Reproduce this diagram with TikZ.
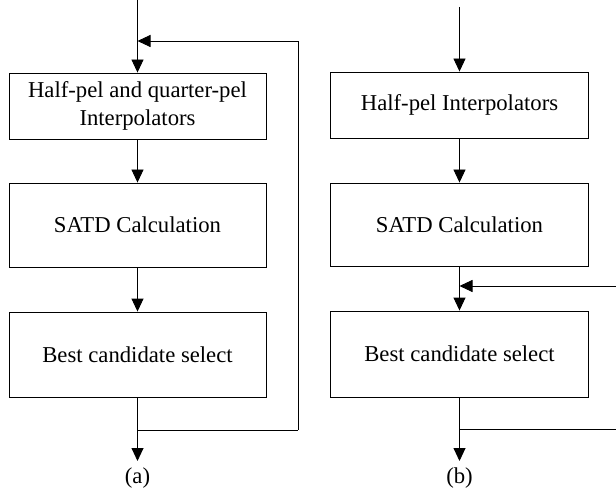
\documentclass[tikz,border=0pt]{standalone}
\usepackage{fontspec}
\setmainfont{Liberation Serif}
\usetikzlibrary{arrows.meta}
\begin{document}
\begin{tikzpicture}[x=1pt,y=-1pt,
  line width=0.9pt,
  blockbox/.style={draw, line width=0.9pt, inner sep=0pt, align=center,
    font=\fontsize{22.7}{28}\selectfont},
  flow/.style={-{Triangle[length=13pt,width=12pt]}},
  caption/.style={font=\fontsize{22.7}{28}\selectfont, inner sep=0pt}]
\useasboundingbox (0,0) rectangle (616,492);

% ---- (a) interpolation with quarter-pel refinement loop ----
\node[blockbox, minimum width=257pt, minimum height=66pt] (a1) at (137.5,106)
  {Half-pel and quarter-pel\\Interpolators};
\node[blockbox, minimum width=257pt, minimum height=84pt] (a2) at (137.5,225)
  {SATD Calculation};
\node[blockbox, minimum width=257pt, minimum height=85pt] (a3) at (137.5,354.5)
  {Best candidate select};
\coordinate (ain) at (137.5,0);
\coordinate (amerge) at (137.5,41);
\coordinate (aout) at (137.5,461);
\coordinate (asplit) at (137.5,430);
\coordinate (aloopb) at (298,430);
\coordinate (aloopt) at (298,41);
\node[caption] (acap) at (137.5,478) {(a)};

\draw[flow] (ain) -- (a1.north);
\draw[flow] (aloopb) -- (aloopt) -- (amerge);
\draw[flow] (a1.south) -- (a2.north);
\draw[flow] (a2.south) -- (a3.north);
\draw[flow] (a3.south) -- (aout);
\draw (asplit) -- (aloopb);

% ---- (b) half-pel interpolation with external feedback ----
\node[blockbox, minimum width=258pt, minimum height=66pt] (b1) at (459.5,105)
  {Half-pel Interpolators};
\node[blockbox, minimum width=258pt, minimum height=83pt] (b2) at (459.5,224.5)
  {SATD Calculation};
\node[blockbox, minimum width=258pt, minimum height=86pt] (b3) at (459.5,354)
  {Best candidate select};
\coordinate (bin) at (459.5,7);
\coordinate (bmerge) at (459.5,286);
\coordinate (bfeed) at (616,286);
\coordinate (bout) at (459.5,461);
\coordinate (bsplit) at (459.5,429);
\coordinate (bexit) at (616,429);
\node[caption] (bcap) at (459.5,478) {(b)};

\draw[flow] (bin) -- (b1.north);
\draw[flow] (b1.south) -- (b2.north);
\draw[flow] (b2.south) -- (b3.north);
\draw[flow] (bfeed) -- (bmerge);
\draw[flow] (b3.south) -- (bout);
\draw (bsplit) -- (bexit);
\end{tikzpicture}
\end{document}
